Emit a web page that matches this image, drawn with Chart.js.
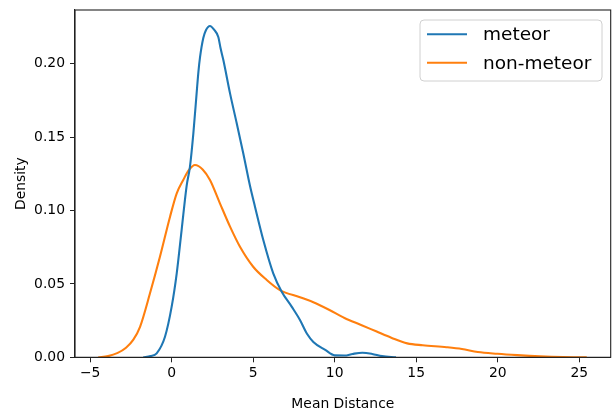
<!DOCTYPE html>
<html>
<head>
<meta charset="utf-8">
<script src="https://cdn.jsdelivr.net/npm/chart.js@4"></script>
<style>
  html, body { margin: 0; padding: 0; background: #fff; }
  #wrap { width: 615px; height: 412px; }
</style>
</head>
<body>
<div id="wrap"><canvas id="kdeChart"></canvas></div>
<script>
// KDE curves
const meteorX = [-1.74, -1.3, -0.92, -0.41, 0, 0.31, 0.61, 0.92, 1.12, 1.33, 1.53, 1.64, 1.74, 1.94, 2.1, 2.35, 2.6, 2.86, 3.0, 3.17, 3.58, 3.99, 4.39, 4.8, 5.11, 5.62, 6.23, 6.75, 7.36, 7.87, 8.3, 8.69, 9.42, 10.0, 10.6, 11.1, 11.7, 12.3, 12.9, 13.76];
const meteorY = [0, 0.0008, 0.0027, 0.014, 0.0345, 0.0572, 0.0867, 0.117, 0.1298, 0.1526, 0.1798, 0.1945, 0.2045, 0.2175, 0.2228, 0.2257, 0.2232, 0.2182, 0.2105, 0.2025, 0.1798, 0.1594, 0.139, 0.117, 0.1026, 0.0799, 0.0572, 0.0447, 0.0345, 0.0254, 0.016, 0.0105, 0.005, 0.0013, 0.0012, 0.0023, 0.0031, 0.0023, 0.0008, 0];

const nonMeteorX = [-4.5, -3.9, -3.31, -2.8, -2.35, -1.94, -1.33, -0.72, -0.1, 0.31, 0.71, 1.05, 1.43, 1.9, 2.35, 2.96, 3.58, 4.19, 5.0, 5.83, 6.64, 7.87, 8.69, 9.65, 10.6, 11.58, 12.54, 13.5, 14.45, 15.4, 16.86, 17.8, 18.78, 19.98, 21.2, 22.6, 24.0, 25.46];
const nonMeteorY = [0, 0.0008, 0.003, 0.0065, 0.012, 0.0208, 0.0436, 0.0685, 0.0958, 0.1117, 0.1208, 0.1275, 0.131, 0.128, 0.1208, 0.1049, 0.089, 0.0753, 0.0617, 0.0527, 0.0458, 0.0409, 0.0375, 0.0324, 0.0268, 0.0222, 0.0177, 0.0132, 0.0095, 0.0082, 0.0069, 0.0057, 0.0036, 0.0024, 0.0015, 0.0007, 0.0002, 0];

const seriesNames = ["meteor", "non-meteor"];
const xTicks = [-5, 0, 5, 10, 15, 20, 25];
const yTicks = [0, 0.05, 0.10, 0.15, 0.20];

const FONT = "'DejaVu Sans', sans-serif";

function toPoints(xs, ys) {
    return xs.map((x, i) => ({ x: x, y: ys[i] }));
}

function noPad(scale) {
    scale.paddingTop = 0;
    scale.paddingBottom = 0;
    scale.paddingLeft = 0;
    scale.paddingRight = 0;
}

// frame on all four sides + matplotlib style legend
const framePlugin = {
    id: "frame",
    afterDraw(chart) {
        const { ctx, chartArea } = chart;
        ctx.save();
        ctx.strokeStyle = "#222";
        ctx.lineWidth = 1.1;
        ctx.strokeRect(chartArea.left, chartArea.top, chartArea.right - chartArea.left, chartArea.bottom - chartArea.top);

        // legend box
        const bx = 420, by = 20, bw = 182, bh = 61;
        ctx.beginPath();
        ctx.roundRect(bx, by, bw, bh, 4);
        ctx.fillStyle = "rgba(255,255,255,0.8)";
        ctx.fill();
        ctx.strokeStyle = "#d0d0d0";
        ctx.lineWidth = 1;
        ctx.stroke();

        ctx.font = "18.5px " + FONT;
        ctx.textBaseline = "middle";
        ctx.fillStyle = "#000";
        const rows = [34.3, 62.7];
        chart.data.datasets.forEach((ds, i) => {
            ctx.strokeStyle = ds.borderColor;
            ctx.lineWidth = 2.1;
            ctx.beginPath();
            ctx.moveTo(427, rows[i]);
            ctx.lineTo(467, rows[i]);
            ctx.stroke();
            ctx.fillText(ds.label, 483, rows[i] + 1);
        });
        ctx.restore();
    }
};

new Chart(document.getElementById("kdeChart"), {
    type: "line",
    data: {
        datasets: [
            {
                label: seriesNames[0],
                data: toPoints(meteorX, meteorY),
                borderColor: "#1f77b4",
                borderWidth: 2.1,
                pointRadius: 0,
                cubicInterpolationMode: "monotone",
                fill: false
            },
            {
                label: seriesNames[1],
                data: toPoints(nonMeteorX, nonMeteorY),
                borderColor: "#ff7f0e",
                borderWidth: 2.1,
                pointRadius: 0,
                cubicInterpolationMode: "monotone",
                fill: false
            }
        ]
    },
    options: {
        responsive: true,
        maintainAspectRatio: false,
        animation: false,
        events: [],
        layout: { padding: { left: 0, top: 10, right: 4.3, bottom: 0 } },
        plugins: {
            legend: { display: false },
            tooltip: { enabled: false }
        },
        scales: {
            x: {
                type: "linear",
                min: -5.93,
                max: 26.93,
                afterFit(scale) { scale.height = 54.7; noPad(scale); },
                afterBuildTicks(scale) { scale.ticks = xTicks.map(v => ({ value: v })); },
                ticks: {
                    color: "#000",
                    font: { family: FONT, size: 13.9 },
                    padding: 3,
                    maxRotation: 0,
                    callback: v => (v < 0 ? "\u2212" + Math.abs(v) : String(v))
                },
                grid: { drawOnChartArea: false, drawTicks: true, tickLength: 5, color: "#222" },
                border: { color: "#222", width: 1.1 },
                title: {
                    display: true,
                    text: "Mean Distance",
                    color: "#000",
                    font: { family: FONT, size: 13.9 },
                    padding: { top: 0, bottom: -1 }
                }
            },
            y: {
                min: 0,
                max: 0.2366,
                afterFit(scale) { scale.width = 75; noPad(scale); },
                afterBuildTicks(scale) { scale.ticks = yTicks.map(v => ({ value: v })); },
                ticks: {
                    color: "#000",
                    font: { family: FONT, size: 13.9 },
                    padding: 5,
                    callback: v => v.toFixed(2)
                },
                grid: { drawOnChartArea: false, drawTicks: true, tickLength: 5, color: "#222" },
                border: { color: "#222", width: 1.1 },
                title: {
                    display: true,
                    text: "Density",
                    color: "#000",
                    font: { family: FONT, size: 13.9 },
                    padding: { top: 13, bottom: 0 }
                }
            }
        }
    },
    plugins: [framePlugin]
});
</script>
</body>
</html>
